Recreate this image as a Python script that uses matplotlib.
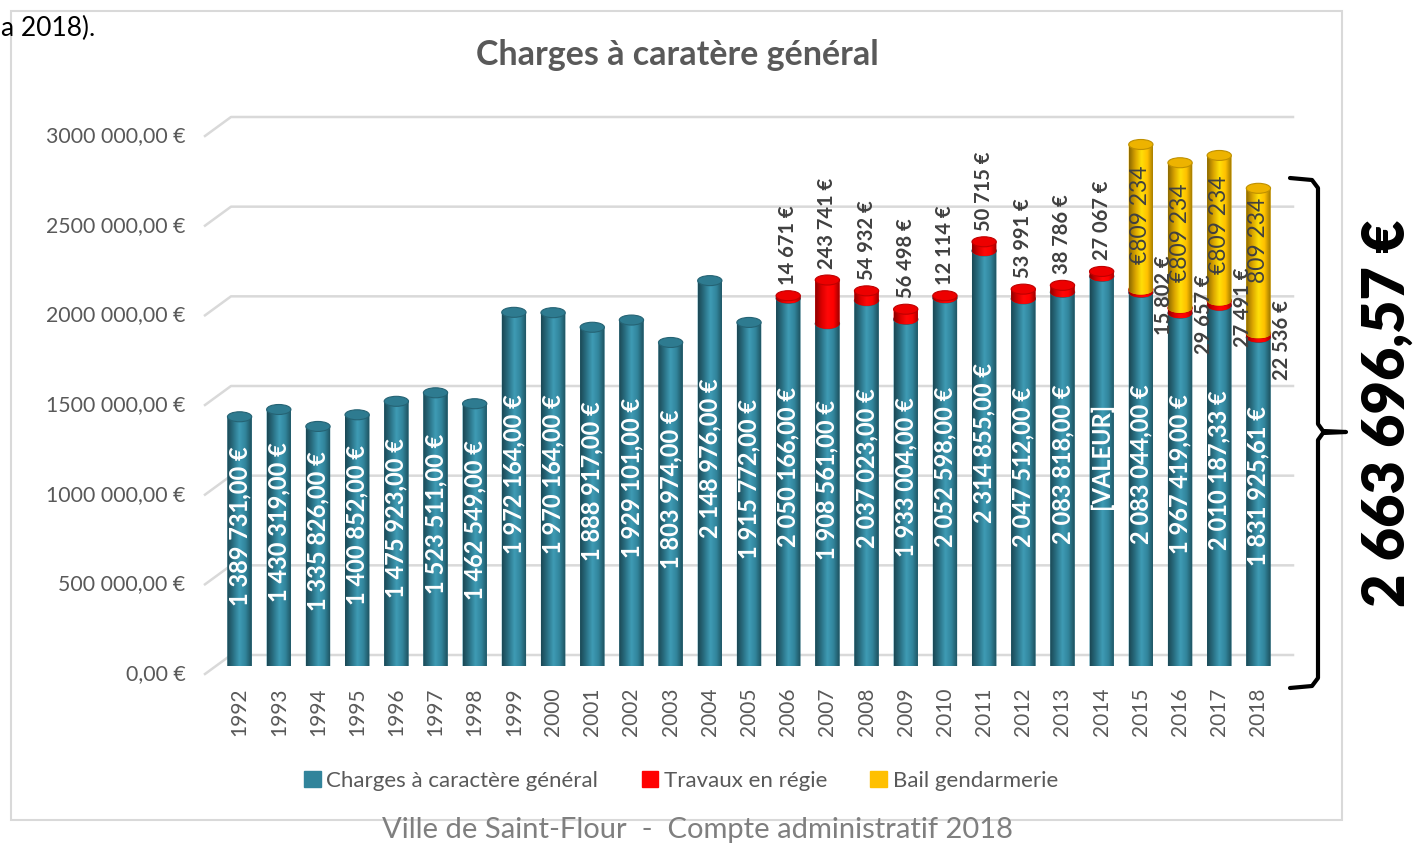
import numpy as np
import matplotlib
matplotlib.use("Agg")
from matplotlib import pyplot as plt
from matplotlib.patches import Ellipse, PathPatch, Rectangle
from matplotlib.path import Path
from matplotlib.lines import Line2D
from matplotlib.colors import LinearSegmentedColormap
from matplotlib.transforms import ScaledTranslation

plt.rcParams['font.family'] = ['Lato', 'DejaVu Sans']

years = [str(y) for y in range(1992, 2019)]
charges = [1389731.00, 1430319.00, 1335826.00, 1400852.00, 1475923.00, 1523511.00,
           1462549.00, 1972164.00, 1970164.00, 1888917.00, 1929101.00, 1803974.00,
           2148976.00, 1915772.00, 2050166.00, 1908561.00, 2037023.00, 1933004.00,
           2052598.00, 2314855.00, 2047512.00, 2083818.00, 2173000.00, 2083044.00,
           1967419.00, 2010187.33, 1831925.61]
travaux = [0] * 14 + [14671, 243741, 54932, 56498, 12114, 50715, 53991, 38786,
                      27067, 15802, 29657, 27491, 22536]
bail = [0] * 23 + [809234, 809234, 809234, 809234]
bail_labels = ["€809 234", "€809 234", "€809 234", "809 234"]
total_2018 = "2 663 696,57 €"
series_names = ["Charges à caractère général", "Travaux en régie", "Bail gendarmerie"]

BLUE = "#31849B"
RED = "#FF0000"
YELLOW = "#FFC000"
GREY = "#595959"

W, H = 1414, 844
fig = plt.figure(figsize=(W / 100, H / 100), dpi=100)

# chart frame
fig.patches.append(Rectangle((11 / W, 1 - 820 / H), 1331 / W, 809 / H, transform=fig.transFigure,
                             fill=False, edgecolor="#D9D9D9", lw=1.5))

ax = fig.add_axes([220 / W, 178 / H, 1058 / W, 538 / H])
ax.patch.set_visible(False)
ymax = 3000000
ax.set_xlim(-0.5, len(years) - 0.5)
ax.set_ylim(0, ymax)
for s in ax.spines.values():
    s.set_visible(False)

bw = 0.62
eh = 10 / 538 * ymax  # ellipse height in data units


def shade_cmap(c):
    rgb = np.array(matplotlib.colors.to_rgb(c))
    dark = rgb * 0.55
    light = np.minimum(rgb * 1.12 + 0.03, 1)
    return LinearSegmentedColormap.from_list("s", [dark, rgb * 0.85, light, rgb, rgb * 0.6])


cmaps = {BLUE: shade_cmap(BLUE), RED: shade_cmap(RED), YELLOW: shade_cmap(YELLOW)}
grad = np.linspace(0, 1, 64).reshape(1, -1)


def cylinder(x, bottom, height, color):
    if height <= 0:
        return
    top = bottom + height
    x0, x1 = x - bw / 2, x + bw / 2
    t = np.linspace(np.pi, 2 * np.pi, 30)
    verts = [(x + bw / 2 * np.cos(a), bottom + eh / 2 * np.sin(a)) for a in t]
    verts += [(x1, top), (x0, top), verts[0]]
    codes = [Path.MOVETO] + [Path.LINETO] * (len(verts) - 2) + [Path.CLOSEPOLY]
    body = PathPatch(Path(verts, codes), facecolor=color, edgecolor="none", zorder=3)
    ax.add_patch(body)
    im = ax.imshow(grad, cmap=cmaps[color], extent=(x0, x1, bottom - eh / 2, top),
                   aspect="auto", zorder=3, interpolation="bilinear")
    im.set_clip_path(body)
    rgb = np.array(matplotlib.colors.to_rgb(color))
    ax.add_patch(Ellipse((x, top), bw, eh, facecolor=rgb * 0.93, edgecolor=rgb * 0.75,
                         lw=0.8, zorder=3))


xs = np.arange(len(years))
for i in xs:
    cylinder(i, 0, charges[i], BLUE)
    cylinder(i, charges[i], travaux[i], RED)
    cylinder(i, charges[i] + travaux[i], bail[i], YELLOW)

# blue labels
for i in xs:
    if years[i] == "2014":
        lab = "[VALEUR]"
    else:
        lab = f"{charges[i]:,.2f}".replace(",", " ").replace(".", ",") + " €"
    ax.annotate(lab, (i, charges[i] / 2), xytext=(0, 11), textcoords="offset points",
                rotation=90, ha="center", va="center", color="white",
                fontsize=17, fontweight="bold", zorder=5)

# red labels
for i in xs:
    if travaux[i] <= 0:
        continue
    lab = f"{travaux[i]:,}".replace(",", " ") + " €"
    if bail[i] > 0:
        ax.annotate(lab, (i, charges[i] + travaux[i] / 2), xytext=(17, -3),
                    textcoords="offset points", rotation=90, ha="center", va="center",
                    color="#404040", fontsize=14.5, fontweight="bold", zorder=5)
    else:
        ax.annotate(lab, (i, charges[i] + travaux[i]), xytext=(0, 8),
                    textcoords="offset points", rotation=90, ha="center", va="bottom",
                    color="#404040", fontsize=14.5, fontweight="bold", zorder=5)

# yellow labels (last one sits at the inside end of its bar)
k = 0
for i in xs:
    if bail[i] <= 0:
        continue
    top = charges[i] + travaux[i] + bail[i]
    if k == len(bail_labels) - 1:
        ax.annotate(bail_labels[k], (i, top), xytext=(0, -7), textcoords="offset points",
                    rotation=90, ha="center", va="top", color="#404040",
                    fontsize=16.5, zorder=5)
    else:
        ax.annotate(bail_labels[k], (i, top - bail[i] / 2), xytext=(0, 2),
                    textcoords="offset points", rotation=90, ha="center", va="center",
                    color="#404040", fontsize=16.5, zorder=5)
    k += 1

# axes ticks
yt = np.arange(0, ymax + 1, 500000)
ax.set_yticks(yt)
ax.set_yticklabels([f"{int(v // 1000)} {int(v % 1000):03d},00 €" if v else "0,00 €" for v in yt])
ax.set_xticks(xs)
ax.set_xticklabels(years, rotation=90)
ax.tick_params(axis="y", length=0, pad=25, labelsize=15.3, labelcolor=GREY)
ax.tick_params(axis="x", length=0, pad=15.5, labelsize=15, labelcolor=GREY)
for lab in ax.get_xticklabels():
    lab.set_va("top")
shift = ScaledTranslation(0, -0.06, fig.dpi_scale_trans)
for lab in ax.get_yticklabels():
    lab.set_transform(lab.get_transform() + shift)

# back-wall gridlines with side-wall slant
fig.canvas.draw()
inv = fig.transFigure.inverted()
for v in yt:
    px0, py = ax.transData.transform((-0.5, v))
    pts = [(px0 - 15, py - 8), (px0 + 11, py + 11), (px0 + 1073, py + 11)]
    fpts = inv.transform(pts)
    fig.add_artist(Line2D(fpts[:, 0], fpts[:, 1], transform=fig.transFigure,
                          color="#D9D9D9", lw=1.8, zorder=0))

# title
fig.text(677 / W, 1 - 55 / H, "Charges à caratère général", ha="center", va="center",
         fontsize=24.5, fontweight="bold", color=GREY)

# legend
handles = [Rectangle((0, 0), 1, 1, color=c) for c in (BLUE, RED, YELLOW)]
fig.legend(handles, series_names, loc="center", bbox_to_anchor=(681 / W, 1 - 781 / H),
           ncol=3, frameon=False, fontsize=16, labelcolor=GREY, handlelength=0.75,
           handleheight=0.75, handletextpad=0.25, columnspacing=1.95)

# brace and total
brace = [(1290, 178), (1312, 180), (1318, 188), (1318, 424), (1323, 431), (1346, 432),
         (1323, 433), (1318, 440), (1318, 678), (1312, 686), (1290, 688)]
bx = [p[0] / W for p in brace]
by = [1 - p[1] / H for p in brace]
fig.add_artist(Line2D(bx, by, transform=fig.transFigure, color="black", lw=3,
                      solid_joinstyle="round", solid_capstyle="round"))
fig.text(1387 / W, 1 - 413 / H, total_2018, rotation=90, ha="center", va="center",
         fontsize=41.5, fontweight="heavy", color="black")

# page text around the chart
fig.text(1 / W, 1 - 28 / H, "a 2018).", ha="left", va="center", fontsize=19, color="black")
fig.text(697 / W, 1 - 830 / H, "Ville de Saint-Flour  -  Compte administratif 2018",
         ha="center", va="center", fontsize=21, color="#7F7F7F")

fig.savefig("out.png", dpi=100)
